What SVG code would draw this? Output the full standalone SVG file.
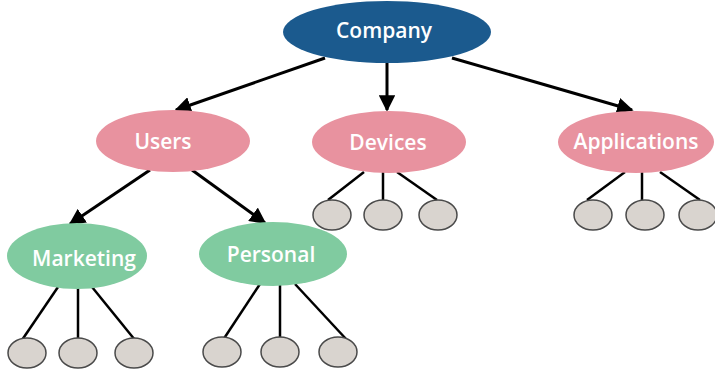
<svg xmlns="http://www.w3.org/2000/svg" width="715" height="373" viewBox="0 0 715 373">
<defs>
<marker id="arr" viewBox="0 0 10 10" refX="9" refY="5" markerWidth="5.5" markerHeight="5.5" orient="auto" markerUnits="strokeWidth">
<path d="M0,0 L10,5 L0,10 z" fill="#000"/>
</marker>
<style>
.lbl{font-family:"Open Sans","Liberation Sans",sans-serif;font-weight:600;font-size:21px;fill:#fff;text-anchor:middle;dominant-baseline:central}
.top{fill:#1b5a8e}
.pink{fill:#e8929f}
.green{fill:#80cba0}
.leaf{fill:#d9d4cf;stroke:#4a4a4a;stroke-width:1.5}
.arrow{stroke:#000;stroke-width:3;fill:none;marker-end:url(#arr)}
.line{stroke:#000;stroke-width:2.5;fill:none}
</style>
</defs>
<rect width="715" height="373" fill="#fff"/>
<g id="connectors">
<line class="arrow" x1="325" y1="58" x2="176" y2="110"/>
<line class="arrow" x1="387" y1="62" x2="387" y2="110"/>
<line class="arrow" x1="452" y1="58" x2="632" y2="110"/>
<line class="arrow" x1="150" y1="170" x2="70" y2="224"/>
<line class="arrow" x1="192" y1="170" x2="265" y2="223"/>
<line class="line" x1="364" y1="172" x2="328" y2="200"/>
<line class="line" x1="383" y1="172" x2="383" y2="200"/>
<line class="line" x1="397" y1="172" x2="437" y2="200"/>
<line class="line" x1="625" y1="172" x2="587" y2="200"/>
<line class="line" x1="642" y1="172" x2="642" y2="200"/>
<line class="line" x1="660" y1="172" x2="700" y2="200"/>
<line class="line" x1="58" y1="287" x2="22" y2="340"/>
<line class="line" x1="78" y1="288" x2="78" y2="338"/>
<line class="line" x1="92" y1="287" x2="135" y2="340"/>
<line class="line" x1="260" y1="284" x2="223" y2="340"/>
<line class="line" x1="280" y1="285" x2="280" y2="338"/>
<line class="line" x1="295" y1="284" x2="347" y2="340"/>
</g>
<g id="company"><ellipse class="top" cx="387" cy="32" rx="104" ry="31"/><text class="lbl" x="384" y="30">Company</text></g>
<g id="users"><ellipse class="pink" cx="173" cy="141" rx="77" ry="31"/><text class="lbl" x="163" y="141">Users</text></g>
<g id="devices"><ellipse class="pink" cx="389" cy="142" rx="77" ry="31"/><text class="lbl" x="388" y="142">Devices</text></g>
<g id="applications"><ellipse class="pink" cx="636" cy="142" rx="78" ry="31"/><text class="lbl" x="636" y="141">Applications</text></g>
<g id="marketing"><ellipse class="green" cx="77" cy="256" rx="70" ry="33"/><text class="lbl" x="84" y="258">Marketing</text></g>
<g id="personal"><ellipse class="green" cx="273" cy="254" rx="74" ry="32"/><text class="lbl" x="271" y="254">Personal</text></g>
<g id="dev-leaf1"><ellipse class="leaf" cx="332" cy="215" rx="19" ry="15"/></g>
<g id="dev-leaf2"><ellipse class="leaf" cx="383" cy="215" rx="19" ry="15"/></g>
<g id="dev-leaf3"><ellipse class="leaf" cx="438" cy="215" rx="19" ry="15"/></g>
<g id="app-leaf1"><ellipse class="leaf" cx="593" cy="215" rx="19" ry="15"/></g>
<g id="app-leaf2"><ellipse class="leaf" cx="645" cy="215" rx="19" ry="15"/></g>
<g id="app-leaf3"><ellipse class="leaf" cx="698" cy="215" rx="19" ry="15"/></g>
<g id="mkt-leaf1"><ellipse class="leaf" cx="27" cy="353" rx="19" ry="15"/></g>
<g id="mkt-leaf2"><ellipse class="leaf" cx="78" cy="353" rx="19" ry="15"/></g>
<g id="mkt-leaf3"><ellipse class="leaf" cx="134" cy="353" rx="19" ry="15"/></g>
<g id="per-leaf1"><ellipse class="leaf" cx="222" cy="352" rx="19" ry="15"/></g>
<g id="per-leaf2"><ellipse class="leaf" cx="280" cy="352" rx="19" ry="15"/></g>
<g id="per-leaf3"><ellipse class="leaf" cx="338" cy="352" rx="19" ry="15"/></g>
</svg>
